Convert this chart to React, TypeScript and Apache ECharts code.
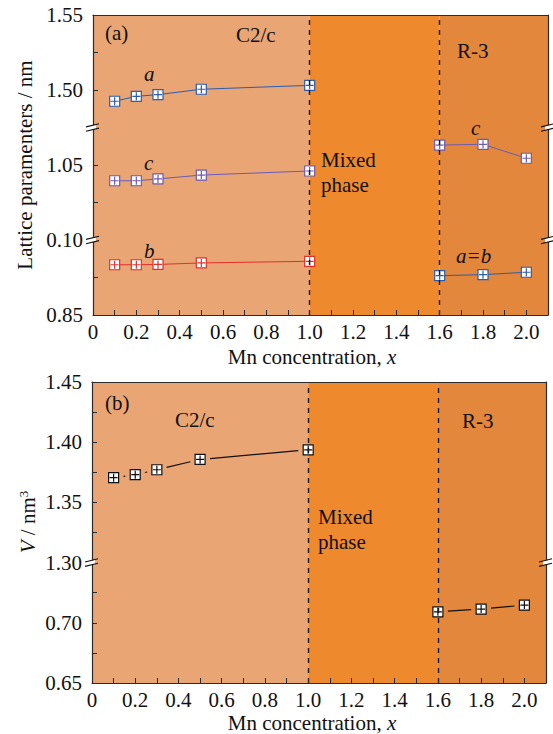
import React, { useEffect, useRef } from 'react';
import * as echarts from 'echarts';

// ---------- data ----------
const xC2c = [0.1, 0.2, 0.3, 0.5, 1.0];
const xR3 = [1.6, 1.8, 2.0];

const latticeA = [1.4925, 1.4958, 1.4969, 1.5005, 1.5031];
const latticeC = [1.0395, 1.0395, 1.0407, 1.0433, 1.046];
const latticeB = [0.8835, 0.8835, 0.8837, 0.8847, 0.8858];
const latticeCR3 = [1.0633, 1.0638, 1.0545];
const latticeABR3 = [0.8762, 0.8769, 0.8785];

const volumeC2c = [1.3705, 1.373, 1.3771, 1.3857, 1.3937];
const volumeR3 = [0.7091, 0.7114, 0.7147];

const topTickLabels = ['0.85', '0.10', '1.05', '1.50', '1.55'];
const bottomTickLabels = ['0.65', '0.70', '1.30', '1.35', '1.40', '1.45'];
const xTickLabels = ['0', '0.2', '0.4', '0.6', '0.8', '1.0', '1.2', '1.4', '1.6', '1.8', '2.0'];
const phaseBounds = [0, 1.0, 1.6, 2.1];

// ---------- style ----------
const FONT = 'Liberation Serif';
const AXIS_COLOR = '#2b2b2b';
const TEXT_COLOR = '#111';
const BLUE = '#2c5cae';
const PURPLE = '#6c5bb2';
const RED = '#e0302c';
const PHASE_COLORS = ['#e9a574', '#ef892d', '#e2873b'];
const MARKER = 'path://M0,0L10,0L10,10L0,10Z M5,1L5,9 M1,5L9,5';

// broken-axis mapping
const topV = (val: number) =>
  val < 0.95 ? (val - 0.85) / 0.05 : val < 1.2 ? 1 + (val - 1.0) / 0.05 : 3 + (val - 1.5) / 0.05;
const bottomV = (val: number) => (val < 1.0 ? (val - 0.65) / 0.05 : 2 + (val - 1.3) / 0.05);

const xLabelValues = xTickLabels.map(Number);
const xTickValues = Array.from({ length: 21 }, (_, i) => i / 10);

const xAxisBottom = (gi: number) => ({
  type: 'value',
  gridIndex: gi,
  min: 0,
  max: 2.1,
  position: 'bottom',
  z: 10,
  axisLine: { show: true, onZero: false, lineStyle: { color: AXIS_COLOR, width: 1.2 } },
  axisTick: { show: true, inside: true, length: 5, customValues: xTickValues, lineStyle: { color: AXIS_COLOR, width: 1 } },
  axisLabel: {
    show: true,
    customValues: xLabelValues,
    formatter: (v: number) => xTickLabels[Math.round(v / 0.2)] ?? '',
    margin: 6,
    color: TEXT_COLOR,
    fontFamily: FONT,
    fontSize: 21,
  },
  splitLine: { show: false },
});

const frameAxis = (gi: number, pos: string, max: number) => ({
  type: 'value',
  gridIndex: gi,
  min: 0,
  max,
  position: pos,
  z: 10,
  axisLine: { show: true, onZero: false, lineStyle: { color: AXIS_COLOR, width: 1.2 } },
  axisTick: { show: false },
  axisLabel: { show: false },
  splitLine: { show: false },
});

const yAxisLeft = (gi: number, max: number, labels: string[], ticks: number[]) => ({
  type: 'value',
  gridIndex: gi,
  min: 0,
  max,
  position: 'left',
  z: 10,
  axisLine: { show: true, onZero: false, lineStyle: { color: AXIS_COLOR, width: 1.2 } },
  axisTick: { show: true, inside: true, length: 5, customValues: ticks, lineStyle: { color: AXIS_COLOR, width: 1 } },
  axisLabel: {
    show: true,
    customValues: labels.map((_, i) => i),
    formatter: (v: number) => labels[Math.round(v)] ?? '',
    margin: 10,
    color: TEXT_COLOR,
    fontFamily: FONT,
    fontSize: 21,
  },
  splitLine: { show: false },
});

const background = (xi: number, yi: number) => ({
  type: 'line',
  xAxisIndex: xi,
  yAxisIndex: yi,
  data: [],
  z: 1,
  silent: true,
  markArea: {
    silent: true,
    data: PHASE_COLORS.map((c, i) => [
      { xAxis: phaseBounds[i], itemStyle: { color: c } },
      { xAxis: phaseBounds[i + 1] },
    ]),
  },
  markLine: {
    silent: true,
    symbol: ['none', 'none'],
    label: { show: false },
    lineStyle: { color: '#1a1a1a', type: [5, 5], width: 1.4 },
    data: [{ xAxis: phaseBounds[1] }, { xAxis: phaseBounds[2] }],
  },
});

const lineSeries = (name: string, xs: number[], ys: number[], color: string) => ({
  name,
  type: 'line',
  xAxisIndex: 0,
  yAxisIndex: 0,
  data: xs.map((x, i) => [x, topV(ys[i])]),
  symbol: MARKER,
  symbolSize: 10,
  showAllSymbol: true,
  z: 3,
  lineStyle: { color, width: 1 },
  itemStyle: { color: '#ffffff', borderColor: color, borderWidth: 1.2 },
});

const segments = (xs: number[], ys: number[]) =>
  xs.slice(1).map((x, i) => [xs[i], bottomV(ys[i]), x, bottomV(ys[i + 1])]);

const txt = (text: string, x: number, y: number, extra: any = {}) => ({
  type: 'text',
  x,
  y,
  z: 50,
  silent: true,
  style: {
    text,
    fontFamily: FONT,
    fontSize: 21,
    fill: TEXT_COLOR,
    align: 'left',
    verticalAlign: 'middle',
    ...extra,
  },
});

export default function App() {
  const ref = useRef<HTMLDivElement>(null);

  useEffect(() => {
    if (!ref.current) return;
    const chart = echarts.init(ref.current, null, { renderer: 'svg' });

    const option: any = {
      animation: false,
      backgroundColor: '#ffffff',
      textStyle: { fontFamily: FONT },
      grid: [
        { left: 93, right: 5, top: 15, height: 300, show: false },
        { left: 92, right: 7, top: 382, height: 301, show: false },
      ],
      xAxis: [xAxisBottom(0), frameAxis(0, 'top', 2.1), xAxisBottom(1), frameAxis(1, 'top', 2.1)],
      yAxis: [
        yAxisLeft(0, 4, topTickLabels, [0.5, 1.5, 2, 3, 3.5]),
        frameAxis(0, 'right', 4),
        yAxisLeft(1, 5, bottomTickLabels, [0.5, 1, 1.5, 2.5, 3, 3.5, 4, 4.5]),
        frameAxis(1, 'right', 5),
      ],
      series: [
        background(0, 0),
        lineSeries('a', xC2c, latticeA, BLUE),
        lineSeries('c', xC2c, latticeC, PURPLE),
        lineSeries('b', xC2c, latticeB, RED),
        lineSeries('c R-3', xR3, latticeCR3, PURPLE),
        lineSeries('a=b R-3', xR3, latticeABR3, BLUE),
        background(2, 2),
        {
          type: 'custom',
          xAxisIndex: 2,
          yAxisIndex: 2,
          z: 3,
          silent: true,
          encode: { x: [0, 2], y: [1, 3] },
          data: [...segments(xC2c, volumeC2c), ...segments(xR3, volumeR3)],
          renderItem: (_p: any, api: any) => {
            const p1 = api.coord([api.value(0), api.value(1)]);
            const p2 = api.coord([api.value(2), api.value(3)]);
            const dx = p2[0] - p1[0];
            const dy = p2[1] - p1[1];
            const len = Math.hypot(dx, dy);
            const gap = 10;
            if (len <= 2 * gap + 1) {
              return {
                type: 'circle',
                shape: { cx: (p1[0] + p2[0]) / 2, cy: (p1[1] + p2[1]) / 2, r: 0.7 },
                style: { fill: '#111' },
              };
            }
            const ux = dx / len;
            const uy = dy / len;
            return {
              type: 'line',
              shape: { x1: p1[0] + ux * gap, y1: p1[1] + uy * gap, x2: p2[0] - ux * gap, y2: p2[1] - uy * gap },
              style: { stroke: '#111', lineWidth: 1.2 },
            };
          },
        },
        {
          type: 'scatter',
          xAxisIndex: 2,
          yAxisIndex: 2,
          z: 4,
          data: [
            ...xC2c.map((x, i) => [x, bottomV(volumeC2c[i])]),
            ...xR3.map((x, i) => [x, bottomV(volumeR3[i])]),
          ],
          symbol: MARKER,
          symbolSize: 10,
          itemStyle: { color: '#ffffff', borderColor: '#111', borderWidth: 1.2, opacity: 1 },
        },
      ],
    };

    chart.setOption(option);

    const brk = (x: number, y: number) => {
      const h = 1.6;
      const s = 2.2;
      return [
        {
          type: 'polygon',
          z: 60,
          silent: true,
          shape: {
            points: [
              [x - 3, y - s + 0.4],
              [x + 3, y - s - 0.4],
              [x + 3, y + s - 0.4],
              [x - 3, y + s + 0.4],
            ],
          },
          style: { fill: '#ffffff' },
        },
        {
          type: 'line',
          z: 61,
          silent: true,
          shape: { x1: x - 7, y1: y - s + h, x2: x + 6, y2: y - s - h },
          style: { stroke: '#111', lineWidth: 1.1 },
        },
        {
          type: 'line',
          z: 61,
          silent: true,
          shape: { x1: x - 7, y1: y + s + h, x2: x + 6, y2: y + s - h },
          style: { stroke: '#111', lineWidth: 1.1 },
        },
      ];
    };

    const px = (xi: number, yi: number, v: number[]) =>
      chart.convertToPixel({ xAxisIndex: xi, yAxisIndex: yi }, v) as number[];

    const breaks: any[] = [];
    [1, 2.5].forEach((v) => {
      const l = px(0, 0, [0, v]);
      const r = px(0, 0, [2.1, v]);
      breaks.push(...brk(l[0], l[1]), ...brk(r[0], r[1]));
    });
    {
      const l = px(2, 2, [0, 2]);
      const r = px(2, 2, [2.1, 2]);
      breaks.push(...brk(l[0], l[1]), ...brk(r[0], r[1]));
    }

    const richX = {
      n: { fontFamily: FONT, fontSize: 21, fill: TEXT_COLOR },
      i: { fontFamily: FONT, fontSize: 21, fontStyle: 'italic', fill: TEXT_COLOR },
    };

    chart.setOption({
      graphic: [
        ...breaks,
        txt('(a)', 105, 33),
        txt('C2/c', 236, 35),
        txt('R-3', 457, 51),
        txt('Mixed', 321, 160),
        txt('phase', 321, 185),
        txt('a', 144, 74, { fontStyle: 'italic' }),
        txt('c', 144, 163, { fontStyle: 'italic' }),
        txt('b', 144, 251, { fontStyle: 'italic' }),
        txt('c', 471, 128, { fontStyle: 'italic' }),
        txt('a=b', 456, 256, { fontStyle: 'italic' }),
        txt('(b)', 105, 403),
        txt('C2/c', 175, 420),
        txt('R-3', 462, 421),
        txt('Mixed', 318, 517),
        txt('phase', 318, 542),
        {
          type: 'text',
          x: 25,
          y: 165,
          rotation: Math.PI / 2,
          z: 50,
          silent: true,
          style: {
            text: 'Lattice paramenters / nm',
            fontFamily: FONT,
            fontSize: 21,
            fill: TEXT_COLOR,
            align: 'center',
            verticalAlign: 'middle',
          },
        },
        {
          type: 'text',
          x: 28,
          y: 522,
          rotation: Math.PI / 2,
          z: 50,
          silent: true,
          style: {
            text: '{i|V} / nm{s|3}',
            fontFamily: FONT,
            fontSize: 21,
            fill: TEXT_COLOR,
            align: 'center',
            verticalAlign: 'middle',
            rich: {
              i: { fontFamily: FONT, fontSize: 21, fontStyle: 'italic', fill: TEXT_COLOR },
              s: { fontFamily: FONT, fontSize: 13, fill: TEXT_COLOR, verticalAlign: 'top', padding: [0, 0, 10, 0] },
            },
          },
        },
        {
          type: 'text',
          x: 312,
          y: 357,
          z: 50,
          silent: true,
          style: {
            text: '{n|Mn concentration, }{i|x}',
            fontFamily: FONT,
            fontSize: 21,
            align: 'center',
            verticalAlign: 'middle',
            rich: richX,
          },
        },
        {
          type: 'text',
          x: 312,
          y: 723,
          z: 50,
          silent: true,
          style: {
            text: '{n|Mn concentration, }{i|x}',
            fontFamily: FONT,
            fontSize: 21,
            align: 'center',
            verticalAlign: 'middle',
            rich: richX,
          },
        },
      ],
    });

    return () => chart.dispose();
  }, []);

  return (
    <div
      ref={ref}
      style={{ position: 'absolute', left: 0, top: 0, width: 553, height: 734, background: '#fff' }}
    />
  );
}
